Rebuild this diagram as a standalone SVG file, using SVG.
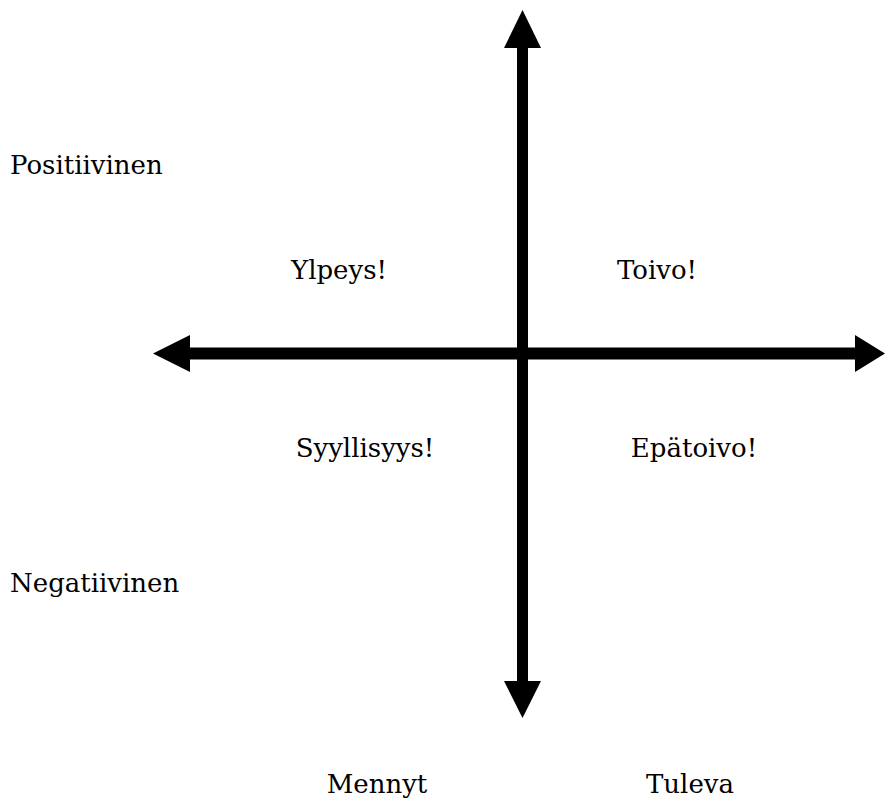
<svg xmlns="http://www.w3.org/2000/svg" width="885" height="800" viewBox="0 0 885 800">
<style>
.lbl{font-family:"DejaVu Serif","Liberation Serif",serif;font-size:26px;fill:#000}
.ax{stroke:#000;fill:none}
.hd{fill:#000}
</style>
<rect width="885" height="800" fill="#fff"/>
<g id="connectors">
<line class="ax" x1="522.5" y1="40" x2="522.5" y2="690" stroke-width="11"/>
<line class="ax" x1="182" y1="353.5" x2="862" y2="353.5" stroke-width="12"/>
<polygon class="hd" points="522.5,10 541,48 504,48"/>
<polygon class="hd" points="522.5,718 541,681 504,681"/>
<polygon class="hd" points="153,353.5 190,335 190,372"/>
<polygon class="hd" points="885,353.5 855,335 855,372"/>
</g>
<g id="positiivinen"><text class="lbl" x="10" y="174">Positiivinen</text></g>
<g id="negatiivinen"><text class="lbl" x="10" y="592">Negatiivinen</text></g>
<g id="ylpeys"><text class="lbl" x="339" y="279" text-anchor="middle">Ylpeys!</text></g>
<g id="toivo"><text class="lbl" x="657" y="279" text-anchor="middle">Toivo!</text></g>
<g id="syyllisyys"><text class="lbl" x="365" y="457" text-anchor="middle">Syyllisyys!</text></g>
<g id="epatoivo"><text class="lbl" x="694" y="457" text-anchor="middle">Epätoivo!</text></g>
<g id="mennyt"><text class="lbl" x="377" y="793" text-anchor="middle">Mennyt</text></g>
<g id="tuleva"><text class="lbl" x="690" y="793" text-anchor="middle">Tuleva</text></g>
</svg>
